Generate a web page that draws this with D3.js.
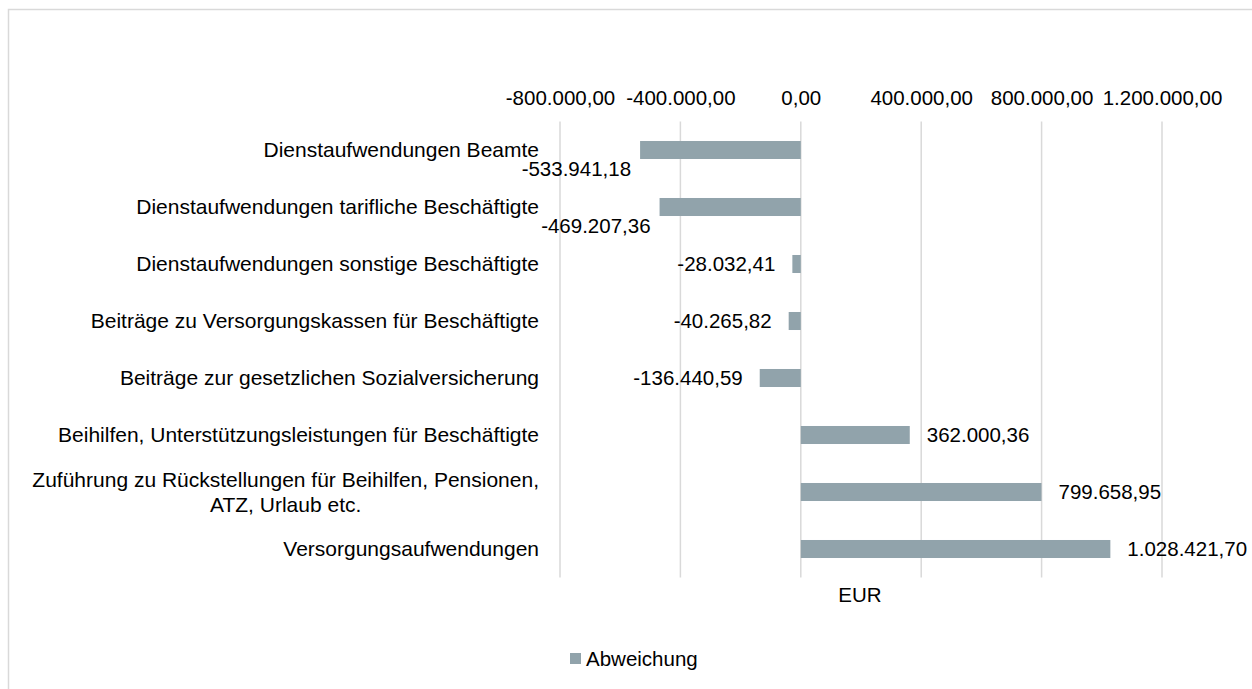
<!DOCTYPE html>
<html>
<head>
<meta charset="utf-8">
<script src="https://cdn.jsdelivr.net/npm/d3@7"></script>
<style>
  body { margin: 0; background: #fff; }
  svg { display: block; }
  .lbl { font-family: "Liberation Sans", Arial, sans-serif; font-size: 20.5px; fill: #000; }
  .cat { font-size: 21px; }
</style>
</head>
<body>
<svg id="chart" width="1252" height="689"></svg>
<script>
// Categories top to bottom
var categories = [
  "Dienstaufwendungen Beamte",
  "Dienstaufwendungen tarifliche Beschäftigte",
  "Dienstaufwendungen sonstige Beschäftigte",
  "Beiträge zu Versorgungskassen für Beschäftigte",
  "Beiträge zur gesetzlichen Sozialversicherung",
  "Beihilfen, Unterstützungsleistungen für Beschäftigte",
  "Zuführung zu Rückstellungen für Beihilfen, Pensionen, ATZ, Urlaub etc.",
  "Versorgungsaufwendungen"
];
var abweichung = [-533941.18, -469207.36, -28032.41, -40265.82, -136440.59, 362000.36, 799658.95, 1028421.70];
var tickValues = [-800000, -400000, 0, 400000, 800000, 1200000];
var seriesName = "Abweichung";
var axisTitle = "EUR";

var barColor = "#91a3ab";
var gridColor = "#d9d9d9";

// German number format, plain hyphen as minus sign
var de = d3.formatLocale({decimal: ",", thousands: ".", grouping: [3], currency: ["", " €"], minus: "-"});
var fmt = de.format(",.2f");

var svg = d3.select("#chart");

// Outer chart border (only top and left visible in window)
svg.append("rect")
  .attr("x", 8.5).attr("y", 9.5)
  .attr("width", 1300).attr("height", 700)
  .attr("fill", "none")
  .attr("stroke", gridColor)
  .attr("stroke-width", 1.5);

var x = d3.scaleLinear().domain([-800000, 1200000]).range([560, 1162]);
var y = d3.scaleBand().domain(categories).range([121.5, 577.5])
  .paddingInner(0.684).paddingOuter(0.342);

// Gridlines
svg.append("g")
  .selectAll("line")
  .data(tickValues)
  .join("line")
  .attr("x1", d => x(d)).attr("x2", d => x(d))
  .attr("y1", y.range()[0]).attr("y2", y.range()[1])
  .attr("stroke", gridColor)
  .attr("stroke-width", 1.5);

// Top axis labels
var axis = svg.append("g")
  .attr("transform", "translate(0,105)")
  .call(d3.axisTop(x).tickValues(tickValues).tickSize(0).tickPadding(0).tickFormat(fmt));
axis.attr("font-size", null).attr("font-family", null);
axis.select(".domain").remove();
axis.selectAll("text")
  .attr("class", "lbl")
  .attr("fill", "#000");

// Bars
svg.append("g")
  .selectAll("rect")
  .data(abweichung)
  .join("rect")
  .attr("x", d => Math.min(x(d), x(0)))
  .attr("y", (d, i) => y(categories[i]))
  .attr("width", d => Math.abs(x(d) - x(0)))
  .attr("height", y.bandwidth())
  .attr("fill", barColor);

// Category labels, wrapped to max width, block right aligned
var labelRight = 539, maxW = 522, lineH = 25;
categories.forEach(function(c) {
  var words = c.split(" ");
  var t = svg.append("text").attr("class", "lbl cat").attr("text-anchor", "middle");
  var lines = [], cur = [];
  words.forEach(function(w) {
    cur.push(w);
    t.text(cur.join(" "));
    if (t.node().getComputedTextLength() > maxW && cur.length > 1) {
      cur.pop();
      lines.push(cur.join(" "));
      cur = [w];
    }
  });
  lines.push(cur.join(" "));
  var widths = lines.map(function(l) {
    t.text(l);
    return t.node().getComputedTextLength();
  });
  t.text(null);
  var cx = labelRight - d3.max(widths) / 2;
  var cy = y(c) + y.bandwidth() / 2;
  lines.forEach(function(l, k) {
    t.append("tspan")
      .attr("x", cx)
      .attr("y", cy + (k - (lines.length - 1) / 2) * lineH)
      .attr("dy", "0.35em")
      .text(l);
  });
});

// Data labels
abweichung.forEach(function(v, i) {
  var cy = y(categories[i]) + y.bandwidth() / 2;
  var t = svg.append("text").attr("class", "lbl").attr("dy", "0.35em").text(fmt(v));
  if (v < 0) {
    var w = t.node().getComputedTextLength();
    var right = x(v) - 17;
    if (right - w < labelRight + 5) {
      // would overlap category text: nudge below the bar
      right = x(v) - 9;
      cy += 19;
    }
    t.attr("x", right).attr("y", cy).attr("text-anchor", "end");
  } else {
    t.attr("x", x(v) + 17).attr("y", cy).attr("text-anchor", "start");
  }
});

// Axis title
svg.append("text")
  .attr("class", "lbl")
  .attr("x", 860).attr("y", 595)
  .attr("dy", "0.35em")
  .attr("text-anchor", "middle")
  .text(axisTitle);

// Legend
var lg = svg.append("g").attr("transform", "translate(570,653)");
lg.append("rect").attr("width", 11).attr("height", 11).attr("fill", barColor);
lg.append("text").attr("class", "lbl")
  .attr("x", 16).attr("y", 5.5).attr("dy", "0.35em")
  .text(seriesName);
</script>
</body>
</html>
